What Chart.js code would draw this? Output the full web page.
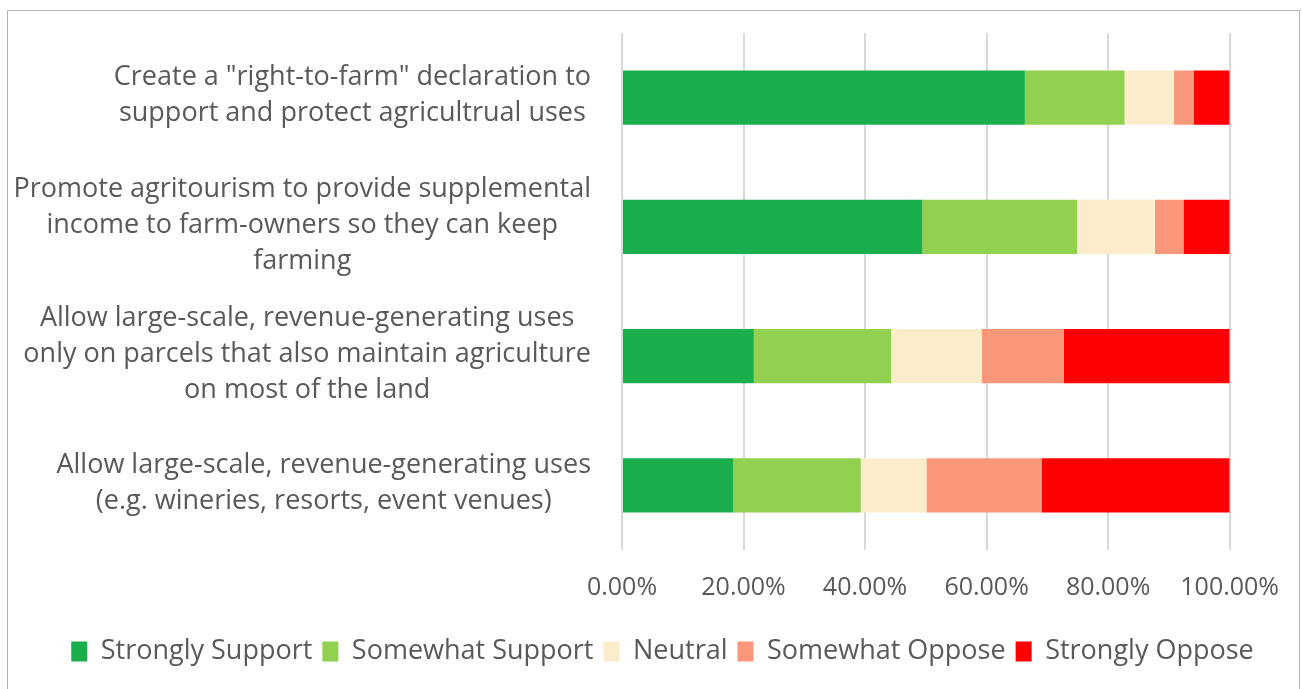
<!DOCTYPE html>
<html>
<head>
<meta charset="utf-8">
<script src="https://cdn.jsdelivr.net/npm/chart.js@4/dist/chart.umd.min.js"></script>
<style>
  html, body { margin: 0; padding: 0; background: #fff; }
  #wrap { position: absolute; left: 0; top: 0; width: 1302px; height: 689px; }
  #frame { position: absolute; left: 7px; top: 10px; width: 1291px; height: 700px; border: 1px solid #b4b4b4; pointer-events: none; }
</style>
</head>
<body>
<div id="wrap">
  <canvas id="grafico" width="1302" height="689"></canvas>
</div>
<div id="frame"></div>
<script>
const categorias = [
  ['Create a "right-to-farm" declaration to', 'support and protect agricultrual uses'],
  ['Promote agritourism to provide supplemental', 'income to farm-owners so they can keep', 'farming'],
  ['Allow large-scale, revenue-generating uses', 'only on parcels that also maintain agriculture', 'on most of the land'],
  ['Allow large-scale, revenue-generating uses', '(e.g. wineries, resorts, event venues)']
];

const apoyoFuerte = [66.3, 49.4, 21.7, 18.3];
const apoyoAlgo = [16.4, 25.5, 22.6, 21.0];
const neutral = [8.1, 12.8, 14.9, 10.8];
const oposicionAlgo = [3.3, 4.7, 13.5, 19.0];
const oposicionFuerte = [5.9, 7.6, 27.3, 30.9];

const series = ['Strongly Support', 'Somewhat Support', 'Neutral', 'Somewhat Oppose', 'Strongly Oppose'];
const colores = ['#1AAF4C', '#92D050', '#FBEDCC', '#FA977B', '#FF0000'];
const valores = [apoyoFuerte, apoyoAlgo, neutral, oposicionAlgo, oposicionFuerte];

const textoGris = '#595959';
const fuente = "'Open Sans', sans-serif";

// la leyenda del original esta centrada en todo el recuadro, no bajo el area del grafico
const moverLeyenda = {
  id: 'moverLeyenda',
  afterLayout(chart) {
    const desplazamiento = 36;
    chart.legend.left += desplazamiento;
    chart.legend.right += desplazamiento;
  }
};

// etiquetas del eje y: cada bloque centrado en si mismo y alineado a la derecha
const etiquetasEjeY = {
  id: 'etiquetasEjeY',
  afterDraw(chart) {
    const { ctx, chartArea } = chart;
    const ejeY = chart.scales.y;
    const derecha = chartArea.left - 31;
    const altoLinea = 36;
    ctx.save();
    ctx.font = '27px ' + fuente;
    ctx.fillStyle = textoGris;
    ctx.textAlign = 'center';
    ctx.textBaseline = 'middle';
    categorias.forEach((lineas, i) => {
      const ancho = Math.max(...lineas.map((l) => ctx.measureText(l).width));
      const centroX = derecha - ancho / 2;
      const centroY = ejeY.getPixelForTick(i) - 2;
      lineas.forEach((linea, j) => {
        ctx.fillText(linea, centroX, centroY + (j - (lineas.length - 1) / 2) * altoLinea);
      });
    });
    ctx.restore();
  }
};

new Chart(document.getElementById('grafico'), {
  type: 'bar',
  data: {
    labels: categorias,
    datasets: series.map((nombre, i) => ({
      label: nombre,
      data: valores[i],
      backgroundColor: colores[i],
      borderWidth: 0,
      barPercentage: 0.42,
      categoryPercentage: 1
    }))
  },
  plugins: [moverLeyenda, etiquetasEjeY],
  options: {
    indexAxis: 'y',
    responsive: false,
    animation: false,
    layout: {
      padding: { top: 33, left: 20, right: 69, bottom: 14 }
    },
    plugins: {
      legend: {
        position: 'bottom',
        labels: {
          color: textoGris,
          boxWidth: 16,
          boxHeight: 20,
          padding: 10,
          font: { size: 27, family: fuente }
        }
      },
      tooltip: { enabled: false }
    },
    scales: {
      x: {
        stacked: true,
        min: 0,
        max: 100,
        border: { display: false },
        grid: { color: '#d9d9d9', lineWidth: 2, drawTicks: false },
        ticks: {
          stepSize: 20,
          padding: 23,
          color: textoGris,
          font: { size: 25, family: fuente },
          callback: (v) => v.toFixed(2) + '%'
        },
        afterFit: (escala) => { escala.height = 78; }
      },
      y: {
        stacked: true,
        border: { display: false },
        grid: { display: false, drawTicks: false },
        ticks: { display: false },
        afterFit: (escala) => {
          escala.width = 602;
          escala.paddingTop = 0;
          escala.paddingBottom = 0;
        }
      }
    }
  }
});
</script>
</body>
</html>
